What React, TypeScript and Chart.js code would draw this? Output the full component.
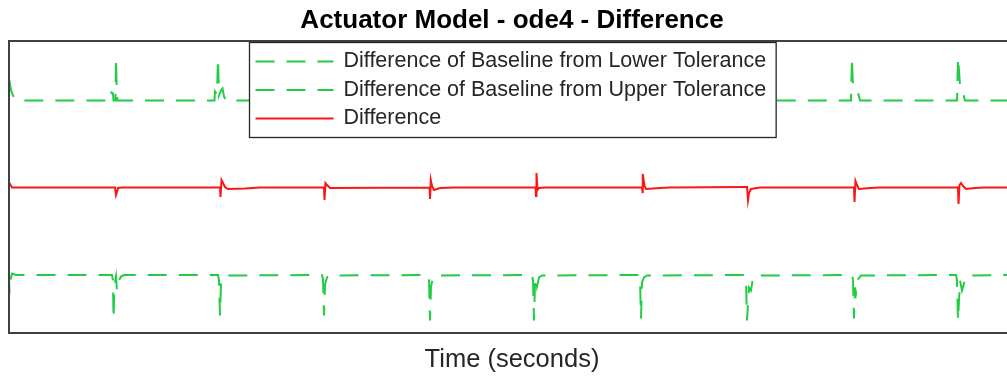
import React, { useEffect, useRef } from "react";
import { Chart, registerables } from "chart.js";

Chart.register(...registerables);

const TITLE = "Actuator Model - ode4 - Difference";
const X_LABEL = "Time (seconds)";
const FONT = '"Liberation Sans", Arial, Helvetica, sans-serif';

const SERIES_LABELS = [
  "Difference of Baseline from Lower Tolerance",
  "Difference of Baseline from Upper Tolerance",
  "Difference",
];

// Lower tolerance difference (bottom green dashed)
const lowerT = [
  0, 0.005, 0.01, 0.03, 0.07,
  1.03, 1.04, 1.045, 1.055, 1.07, 1.08, 1.1, 1.12, 1.15,
  2.09, 2.1, 2.11, 2.12, 2.14, 2.18,
  3.13, 3.14, 3.15, 3.16, 3.18, 3.2,
  4.19, 4.2, 4.21, 4.22, 4.24, 4.27,
  5.23, 5.24, 5.25, 5.26, 5.27, 5.28, 5.3, 5.33,
  6.3, 6.31, 6.32, 6.33, 6.35, 6.38,
  7.36, 7.37, 7.38, 7.4, 7.42, 7.44, 7.47,
  8.43, 8.44, 8.45, 8.46, 8.47, 8.49, 8.52,
  9.47, 9.48, 9.49, 9.51, 9.53, 9.55, 9.58, 10.06,
];
const lowerV = [
  -0.89, -1.06, -0.95, -0.86, -0.875,
  -0.875, -0.93, -1.31, -0.98, -0.89, -1.03, -0.93, -0.89, -0.875,
  -0.875, -0.93, -1.28, -0.96, -0.9, -0.88,
  -0.875, -0.92, -1.28, -0.97, -0.9, -0.88,
  -0.875, -0.91, -1.33, -0.99, -0.9, -0.88,
  -0.875, -0.93, -1.33, -0.97, -0.9, -0.99, -0.9, -0.88,
  -0.875, -0.92, -1.31, -0.95, -0.9, -0.88,
  -0.875, -0.93, -1.33, -1.0, -1.03, -0.9, -0.88,
  -0.875, -0.92, -1.31, -1.0, -1.06, -0.92, -0.88,
  -0.875, -0.93, -1.33, -0.93, -1.03, -0.96, -0.88, -0.875,
];

// Upper tolerance difference (top green dashed)
const upperT = [
  0, 0.02, 0.05, 0.1,
  1.02, 1.025, 1.04, 1.045, 1.065, 1.07, 1.078, 1.085,
  2.055, 2.06, 2.08, 2.09, 2.1, 2.12, 2.135, 2.15, 2.17,
  3.12, 3.13, 3.15, 3.16, 3.17, 3.19, 3.21,
  4.17, 4.18, 4.2, 4.21, 4.22, 4.24, 4.26,
  5.25, 5.26, 5.27, 5.28, 5.29, 5.31, 5.33,
  6.29, 6.3, 6.32, 6.33, 6.34, 6.36, 6.38,
  7.36, 7.37, 7.38, 7.39, 7.4, 7.42, 7.44,
  8.42, 8.43, 8.435, 8.44, 8.47, 8.49, 8.51,
  9.48, 9.49, 9.5, 9.51, 9.53, 9.56, 10.06,
];
const upperV = [
  1.09, 0.97, 0.9, 0.87,
  0.87, 0.95, 0.94, 0.87, 0.87, 1.29, 0.95, 0.87,
  0.87, 0.96, 0.93, 1.29, 0.92, 0.97, 0.99, 0.91, 0.87,
  0.87, 0.95, 0.93, 1.28, 0.92, 0.96, 0.87,
  0.87, 0.94, 0.92, 1.27, 0.93, 0.97, 0.87,
  0.87, 0.96, 0.92, 1.3, 0.91, 0.95, 0.87,
  0.87, 0.95, 0.93, 1.29, 0.92, 0.98, 0.87,
  0.87, 0.94, 0.92, 1.31, 0.93, 0.97, 0.87,
  0.87, 1.3, 1.12, 1.02, 1.0, 0.95, 0.87,
  0.87, 1.3, 1.17, 1.02, 0.99, 0.87, 0.87,
];

// Difference (red solid)
const diffT = [
  0, 0.01, 0.03,
  1.06, 1.07, 1.08, 1.09, 1.13,
  2.11, 2.115, 2.125, 2.14, 2.16, 2.19, 2.36, 2.51,
  3.15, 3.155, 3.165, 3.18, 3.21,
  4.205, 4.21, 4.218, 4.23, 4.25, 4.31, 4.46,
  5.265, 5.27, 5.275, 5.285, 5.3, 5.36,
  6.33, 6.335, 6.34, 6.355, 6.37, 6.51, 6.61,
  7.37, 7.38, 7.39, 7.4, 7.42, 7.51,
  8.45, 8.455, 8.465, 8.48, 8.5, 8.61, 8.71,
  9.49, 9.495, 9.505, 9.52, 9.54, 9.57, 9.66, 9.76, 10.06,
];
const diffV = [
  0.015, 0.035, 0,
  0, -0.075, -0.045, -0.005, 0,
  0, -0.095, 0.075, 0.045, 0.005, -0.015, -0.01, 0,
  0, -0.125, 0.045, 0.025, -0.005,
  0, -0.115, 0.075, 0.015, -0.025, -0.005, 0,
  0, -0.085, 0.145, -0.025, -0.005, 0,
  0, -0.055, 0.135, 0.015, -0.015, -0.005, 0,
  0.005, 0.015, -0.125, -0.055, -0.015, 0,
  0, -0.145, 0.065, 0.025, -0.015, -0.005, 0,
  0, -0.165, 0.025, 0.045, 0.015, -0.015, -0.005, 0, 0,
];

const X_MIN = 0;
const X_MAX = 10.06;
const Y_MIN = -1.455;
const Y_MAX = 1.465;

const GREEN = "rgb(34, 204, 68)";
const RED = "rgb(255, 20, 20)";

const toPoints = (t: number[], v: number[]) => t.map((x, i) => ({ x, y: v[i] }));

const framePlugin = {
  id: "frame",
  afterDatasetsDraw(chart: any) {
    const { ctx, chartArea } = chart;
    ctx.save();
    ctx.strokeStyle = "#404040";
    ctx.lineWidth = 2;
    ctx.strokeRect(chartArea.left, chartArea.top, chartArea.right - chartArea.left, chartArea.bottom - chartArea.top);
    ctx.restore();
  },
};

const insideLegendPlugin = {
  id: "insideLegend",
  afterDraw(chart: any) {
    const { ctx, chartArea } = chart;
    const datasets = chart.data.datasets;
    ctx.save();
    ctx.font = `21.5px ${FONT}`;
    const maxW = Math.max(...datasets.map((d: any) => ctx.measureText(d.label).width));
    const padL = 6;
    const lineLen = 78;
    const gap = 10;
    const padR = 10;
    const rowH = 28.5;
    const padT = 4.75;
    const w = padL + lineLen + gap + maxW + padR;
    const h = padT * 2 + rowH * datasets.length;
    const cx = (chartArea.left + chartArea.right) / 2;
    const x0 = Math.round(cx - w / 2) + 0.5;
    const y0 = chartArea.top + 1.5;
    ctx.fillStyle = "#ffffff";
    ctx.fillRect(x0, y0, w, h);
    ctx.strokeStyle = "#262626";
    ctx.lineWidth = 1.3;
    ctx.strokeRect(x0, y0, w, h);
    datasets.forEach((d: any, i: number) => {
      const yc = y0 + padT + rowH * i + rowH / 2;
      ctx.save();
      ctx.beginPath();
      ctx.strokeStyle = d.borderColor;
      ctx.lineWidth = 2;
      ctx.setLineDash(d.borderDash || []);
      ctx.moveTo(x0 + padL, yc);
      ctx.lineTo(x0 + padL + lineLen, yc);
      ctx.stroke();
      ctx.restore();
      ctx.fillStyle = "#262626";
      ctx.textBaseline = "middle";
      ctx.textAlign = "left";
      ctx.fillText(d.label, x0 + padL + lineLen + gap, yc);
    });
    ctx.restore();
  },
};

export default function App() {
  const canvasRef = useRef<HTMLCanvasElement | null>(null);

  useEffect(() => {
    if (!canvasRef.current) return;
    const chart = new Chart(canvasRef.current, {
      type: "line",
      data: {
        datasets: [
          {
            label: SERIES_LABELS[0],
            data: toPoints(lowerT, lowerV),
            borderColor: GREEN,
            borderWidth: 2,
            borderDash: [19, 12],
            pointRadius: 0,
            tension: 0,
          },
          {
            label: SERIES_LABELS[1],
            data: toPoints(upperT, upperV),
            borderColor: GREEN,
            borderWidth: 2,
            borderDash: [19, 12],
            pointRadius: 0,
            tension: 0,
          },
          {
            label: SERIES_LABELS[2],
            data: toPoints(diffT, diffV),
            borderColor: RED,
            borderWidth: 2,
            pointRadius: 0,
            tension: 0,
          },
        ],
      },
      options: {
        animation: false,
        responsive: false,
        maintainAspectRatio: false,
        devicePixelRatio: 1,
        events: [],
        layout: { padding: { left: 9, right: 9, top: 0, bottom: 0 } },
        plugins: {
          legend: { display: false },
          tooltip: { enabled: false },
          title: {
            display: true,
            text: TITLE,
            color: "#000000",
            font: { family: FONT, size: 26, weight: "bold", lineHeight: 1.2 },
            padding: { top: 5.4, bottom: 4.4 },
          },
        },
        scales: {
          x: {
            type: "linear",
            min: X_MIN,
            max: X_MAX,
            grid: { display: false, drawTicks: false },
            border: { display: false },
            ticks: { display: false },
            title: {
              display: true,
              text: X_LABEL,
              color: "#262626",
              font: { family: FONT, size: 25.5, lineHeight: 1.2 },
              padding: { top: 0, bottom: 3.5 },
            },
            afterFit: (s: any) => {
              s.height = 46;
            },
          },
          y: {
            display: false,
            min: Y_MIN,
            max: Y_MAX,
          },
        },
      },
      plugins: [framePlugin, insideLegendPlugin],
    } as any);
    return () => chart.destroy();
  }, []);

  return (
    <div
      style={{
        position: "absolute",
        left: 0,
        top: 0,
        width: 1007,
        height: 379,
        overflow: "hidden",
        background: "#ffffff",
      }}
    >
      <canvas ref={canvasRef} width={1024} height={379} style={{ display: "block" }} />
    </div>
  );
}
